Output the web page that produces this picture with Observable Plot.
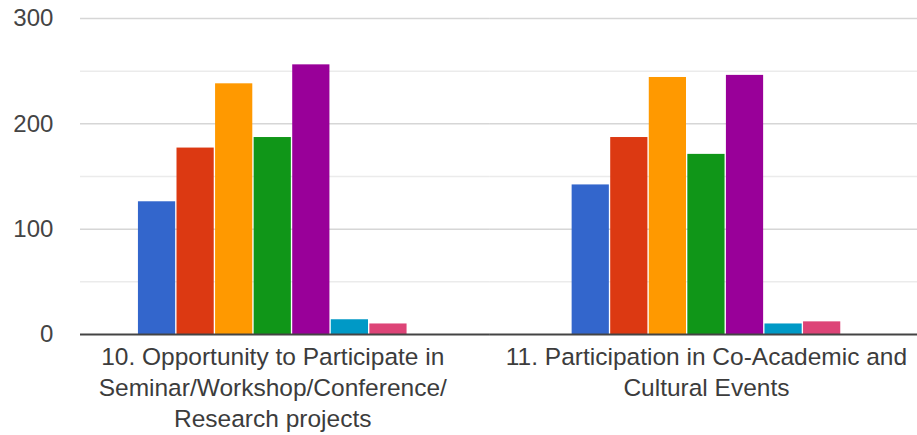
<!DOCTYPE html>
<html><head><meta charset="utf-8">
<script src="https://cdn.jsdelivr.net/npm/d3@7"></script>
<script src="https://cdn.jsdelivr.net/npm/@observablehq/plot@0.6"></script>
<style>html,body{margin:0;padding:0;background:#fff;overflow:hidden}</style>
</head><body><div id="chart"></div>
<script>
// ---- data ----
const groups = ["Q10", "Q11"];
const groupLabels = [
  "10. Opportunity to Participate in\nSeminar/Workshop/Conference/\nResearch projects",
  "11. Participation in Co-Academic and\nCultural Events"
];
const series = ["Response 1", "Response 2", "Response 3", "Response 4", "Response 5", "Response 6", "Response 7"];
const colors = ["#3366cc", "#dc3912", "#ff9900", "#109618", "#990099", "#0099c6", "#dd4477"];
const valuesQ10 = [126, 177, 238, 187, 256, 14, 10];
const valuesQ11 = [142, 187, 244, 171, 246, 10, 12];
const yTickLabels = [0, 100, 200, 300];
const majorGrid = [100, 200, 300];
const minorGrid = [50, 150, 250];

// ---- build table ----
const valuesByGroup = [valuesQ10, valuesQ11];
const data = groups.flatMap((g, gi) => series.map((s, si) => ({group: g, series: s, value: valuesByGroup[gi][si]})));
const labelOf = Object.fromEntries(groups.map((g, i) => [g, groupLabels[i]]));

// rules per facet: first facet starts at the plot's left edge of the grid
function facetRules(ticks, opts) {
  return [
    Plot.ruleY(ticks.map(v => ({group: groups[0], v})), {y: "v", fx: "group", insetLeft: 24.6, ...opts}),
    Plot.ruleY(ticks.map(v => ({group: groups[1], v})), {y: "v", fx: "group", ...opts})
  ];
}

const chart = Plot.plot({
  width: 917,
  height: 435,
  marginTop: 18,
  marginBottom: 101,
  marginLeft: 55,
  marginRight: 0,
  style: {fontFamily: "'Liberation Sans', Arial, sans-serif", background: "#fff", color: "#3c3c3c"},
  fx: {domain: groups, range: [55.4, 922.8], padding: 0, round: false, label: null},
  x: {domain: series, paddingInner: 0.035, paddingOuter: 2.14, round: false, axis: null},
  y: {domain: [0, 300], axis: null},
  color: {domain: series, range: colors},
  marks: [
    ...facetRules(minorGrid, {stroke: "#ebebeb", strokeWidth: 1.5}),
    ...facetRules(majorGrid, {stroke: "#d6d6d6", strokeWidth: 1.5}),
    Plot.barY(data, {fx: "group", x: "series", y: "value", fill: "series"}),
    ...facetRules([0], {stroke: "#444", strokeWidth: 2}),
    Plot.axisY(yTickLabels, {tickSize: 0, tickPadding: 2.5, fontSize: 24, fill: "#444", label: null}),
    Plot.axisFx({anchor: "bottom", tickSize: 0, tickPadding: 8.8, fontSize: 24.5, lineHeight: 1.26, fill: "#3c3c3c", tickFormat: k => labelOf[k], label: null})
  ]
});
document.getElementById("chart").appendChild(chart);
</script>
</body></html>
